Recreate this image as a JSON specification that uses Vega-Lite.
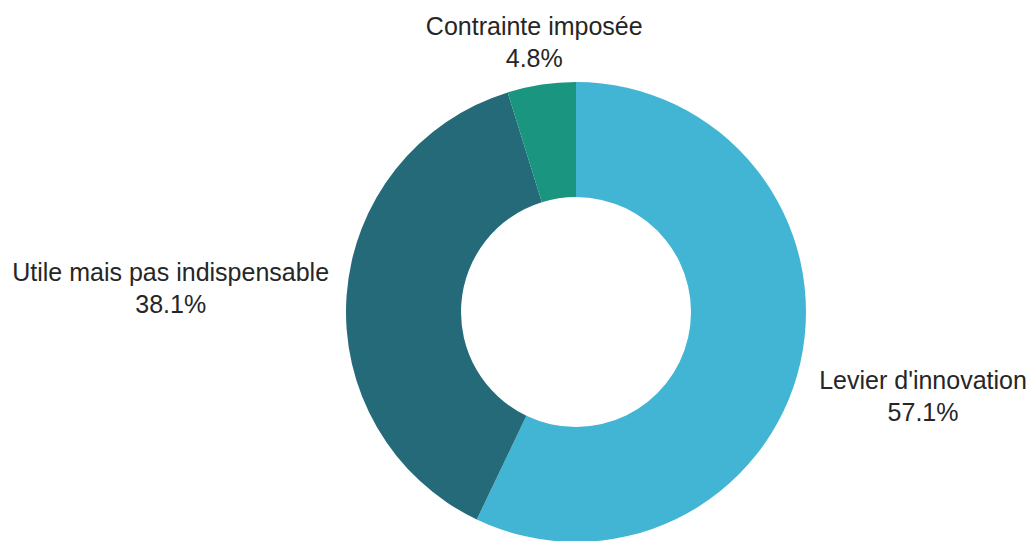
{
  "$schema": "https://vega.github.io/schema/vega-lite/v6.json",
  "width": 908,
  "height": 458,
  "autosize": "none",
  "padding": {"left": 122, "top": 83, "right": 0, "bottom": 0},
  "background": "white",
  "config": {"view": {"stroke": null}},
  "data": {
    "values": [
      {"category": "Levier d'innovation", "value": 57.1},
      {"category": "Utile mais pas indispensable", "value": 38.1},
      {"category": "Contrainte imposée", "value": 4.8}
    ]
  },
  "transform": [
    {"window": [{"op": "row_number", "as": "idx"}]},
    {"joinaggregate": [{"op": "sum", "field": "value", "as": "total"}]},
    {"calculate": "[datum.category, format(datum.value, '.1f') + '%']", "as": "label"}
  ],
  "encoding": {
    "theta": {"field": "value", "type": "quantitative", "stack": true},
    "order": {"field": "idx", "type": "quantitative"}
  },
  "layer": [
    {
      "mark": {"type": "arc", "outerRadius": 230, "innerRadius": 115},
      "encoding": {
        "color": {
          "field": "category",
          "type": "nominal",
          "legend": null,
          "scale": {
            "domain": ["Levier d'innovation", "Utile mais pas indispensable", "Contrainte imposée"],
            "range": ["#42b4d4", "#246a78", "#1a9580"]
          }
        }
      }
    },
    {
      "mark": {
        "type": "text",
        "font": "Liberation Sans",
        "fontSize": 25,
        "lineHeight": 32,
        "color": "#262626",
        "align": "center",
        "baseline": "middle",
        "dy": -10,
        "radius": {"expr": "249 + abs(sin(PI*(datum.value_start+datum.value_end)/datum.total))*5.6*length(datum.category) + abs(cos(PI*(datum.value_start+datum.value_end)/datum.total))*14"}
      },
      "encoding": {"text": {"field": "label"}}
    }
  ]
}
